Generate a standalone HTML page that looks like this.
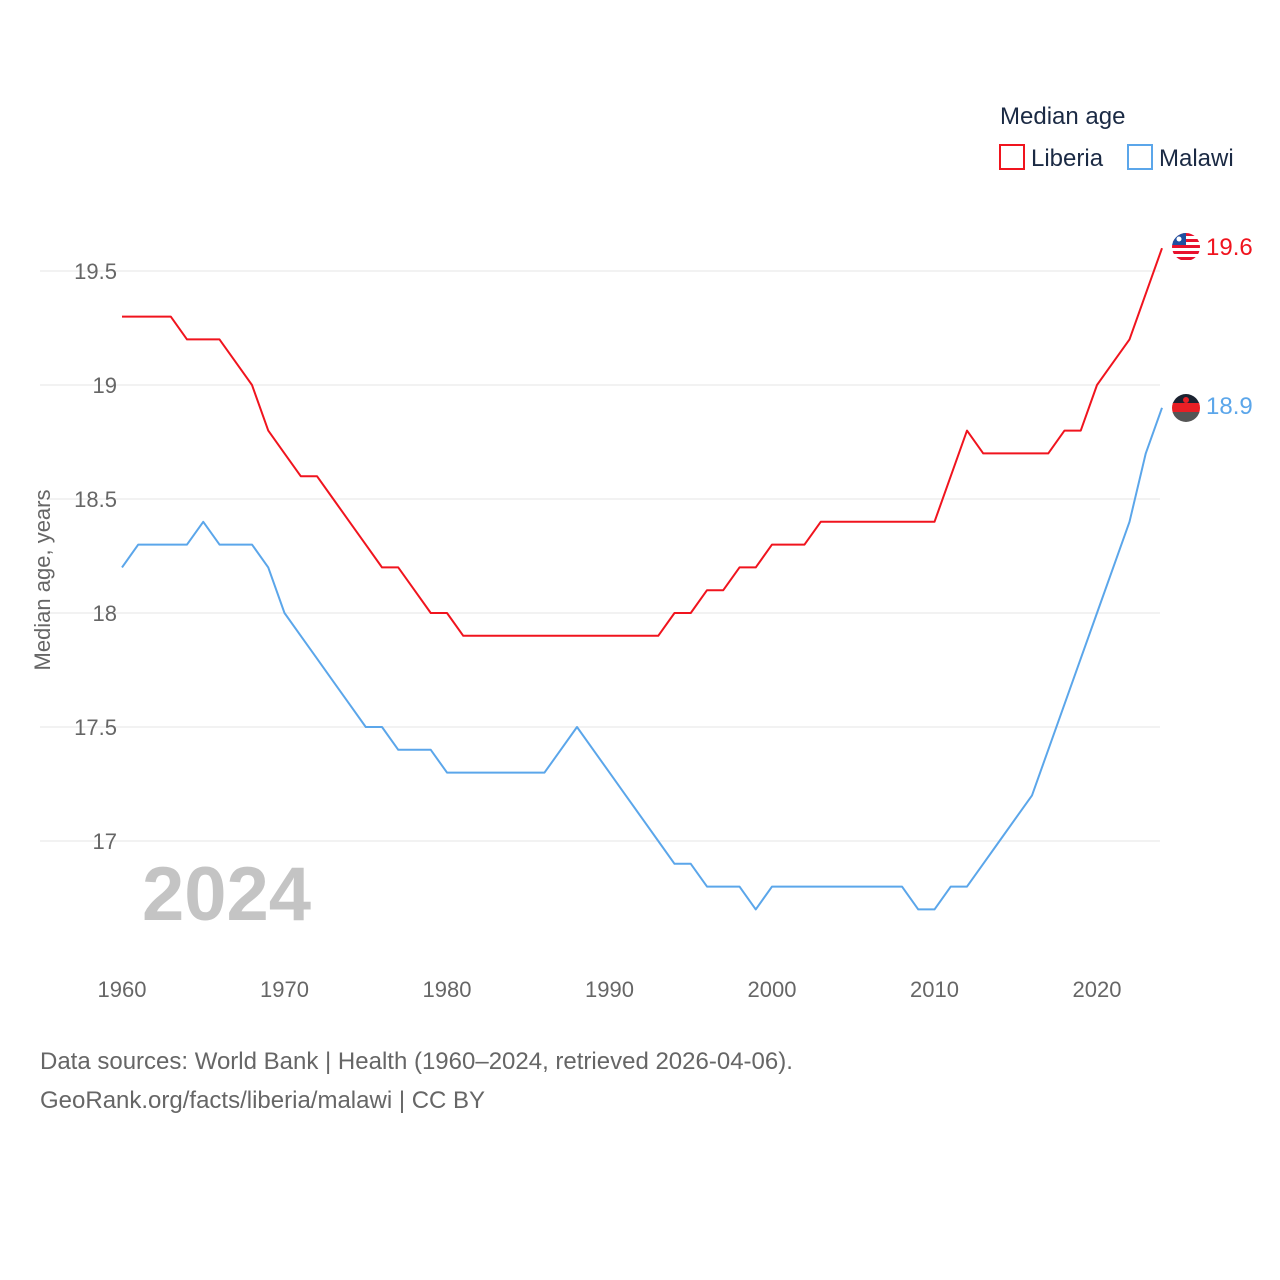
<!DOCTYPE html>
<html><head><meta charset="utf-8"><style>
body{margin:0;background:#fff;width:1280px;height:1280px;overflow:hidden;font-family:"Liberation Sans",sans-serif}
</style></head><body>
<svg id="c" width="1280" height="1280" style="position:absolute;left:0;top:0">
<g id="grid"></g><g id="ylab"></g><g id="xlab"></g><g id="lines"></g>
<text x="142" y="920" font-size="76" font-weight="bold" fill="#c4c4c4">2024</text>
<text transform="translate(50,580) rotate(-90)" text-anchor="middle" font-size="22" fill="#666">Median age, years</text>
<text x="1000" y="124" font-size="24" fill="#1b2a44">Median age</text>
<g><rect x="1000" y="145" width="24" height="24" fill="none" stroke="#f0141e" stroke-width="2"/><text x="1031" y="166" font-size="24" fill="#1b2a44">Liberia</text></g>
<g><rect x="1128" y="145" width="24" height="24" fill="none" stroke="#5ba6ea" stroke-width="2"/><text x="1159" y="166" font-size="24" fill="#1b2a44">Malawi</text></g>
<g>
<clipPath id="cl"><circle cx="1186" cy="247" r="14"/></clipPath>
<g clip-path="url(#cl)"><rect x="1170" y="231" width="32" height="32" fill="#fff"/>
<rect x="1170" y="233" width="32" height="3" fill="#e8112d"/><rect x="1170" y="239" width="32" height="3" fill="#e8112d"/><rect x="1170" y="245" width="32" height="3" fill="#e8112d"/><rect x="1170" y="251" width="32" height="3" fill="#e8112d"/><rect x="1170" y="257" width="32" height="3" fill="#e8112d"/>
<rect x="1170" y="231" width="16" height="14" fill="#1f4fa0"/><circle cx="1179" cy="239" r="2.5" fill="#fff"/></g></g>
<g>
<clipPath id="cm"><circle cx="1186" cy="408" r="14"/></clipPath>
<g clip-path="url(#cm)"><rect x="1170" y="394" width="32" height="10" fill="#1b2230"/><rect x="1170" y="403" width="32" height="10" fill="#e81f25"/><rect x="1170" y="412" width="32" height="10" fill="#555"/><circle cx="1186" cy="400" r="3" fill="#e81f25"/></g></g>
<text x="1206" y="255" font-size="24" fill="#f0141e">19.6</text>
<text x="1206" y="414" font-size="24" fill="#5ba6ea">18.9</text>
<text x="40" y="1069" font-size="24" fill="#666">Data sources: World Bank | Health (1960–2024, retrieved 2026-04-06).</text>
<text x="40" y="1108" font-size="24" fill="#666">GeoRank.org/facts/liberia/malawi | CC BY</text>
</svg>
<script>
const years=[];for(let y=1960;y<=2024;y++)years.push(y);
const liberia=[19.3,19.3,19.3,19.3,19.2,19.2,19.2,19.1,19.0,18.8,18.7,18.6,18.6,18.5,18.4,18.3,18.2,18.2,18.1,18.0,18.0,17.9,17.9,17.9,17.9,17.9,17.9,17.9,17.9,17.9,17.9,17.9,17.9,17.9,18.0,18.0,18.1,18.1,18.2,18.2,18.3,18.3,18.3,18.4,18.4,18.4,18.4,18.4,18.4,18.4,18.4,18.6,18.8,18.7,18.7,18.7,18.7,18.7,18.8,18.8,19.0,19.1,19.2,19.4,19.6];
const malawi=[18.2,18.3,18.3,18.3,18.3,18.4,18.3,18.3,18.3,18.2,18.0,17.9,17.8,17.7,17.6,17.5,17.5,17.4,17.4,17.4,17.3,17.3,17.3,17.3,17.3,17.3,17.3,17.4,17.5,17.4,17.3,17.2,17.1,17.0,16.9,16.9,16.8,16.8,16.8,16.7,16.8,16.8,16.8,16.8,16.8,16.8,16.8,16.8,16.8,16.7,16.7,16.8,16.8,16.9,17.0,17.1,17.2,17.4,17.6,17.8,18.0,18.2,18.4,18.7,18.9];
const yTicks=[17,17.5,18,18.5,19,19.5];
const yTickLabels=["17","17.5","18","18.5","19","19.5"];
const xTicks=[1960,1970,1980,1990,2000,2010,2020];
const ns="http://www.w3.org/2000/svg";
const X=y=>122+(y-1960)*16.25;
const Y=v=>271+(19.5-v)*228;
function el(t,a,p){const e=document.createElementNS(ns,t);for(const k in a)e.setAttribute(k,a[k]);document.getElementById(p).appendChild(e);return e;}
yTicks.forEach((t,i)=>{
 const g=el('line',{x1:40,x2:1160,y1:Y(t),y2:Y(t),stroke:'#e6e6e6','stroke-width':1},'grid');
 
 
 const l=el('text',{x:117,y:Y(t)+8,'text-anchor':'end','font-size':22,fill:'#666'},'ylab');l.textContent=yTickLabels[i];
 
 
});
xTicks.forEach(t=>{
 const l=el('text',{x:X(t),y:997,'text-anchor':'middle','font-size':22,fill:'#666'},'xlab');l.textContent=t;
 
 
});
function line(d,c,n){
 const p=el('path',{d:d.map((v,i)=>(i?'L':'M')+X(years[i])+','+Y(v)).join(''),fill:'none',stroke:c,'stroke-width':2,'stroke-linejoin':'round'},'lines');
 
 
}
line(malawi,'#5ba6ea','malawi-line');
line(liberia,'#f0141e','liberia-line');
</script>
</body></html>
